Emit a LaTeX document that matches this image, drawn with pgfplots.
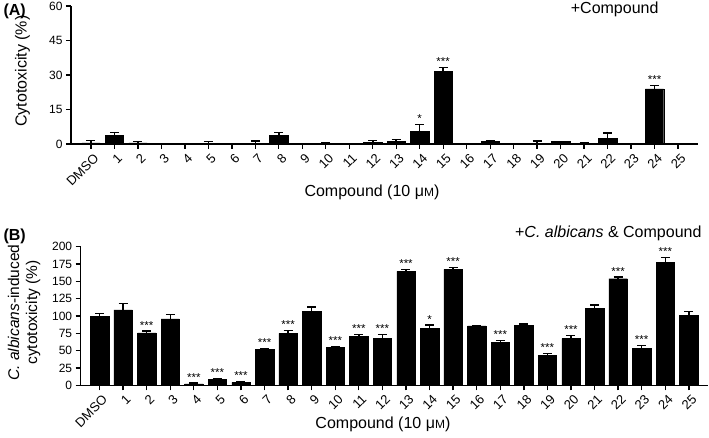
\documentclass[border=0pt]{standalone}
\usepackage{pgfplots}
\pgfplotsset{compat=1.18}
\usepackage{fontspec}
\setmainfont{Liberation Sans}
\newcommand{\tickfont}{\fontsize{12}{12}\selectfont}
\newcommand{\xtickfont}{\fontsize{13}{13}\selectfont}
\newcommand{\labfont}{\fontsize{16}{17.5}\selectfont}
\begin{document}
\begin{tikzpicture}
\path[use as bounding box] (0pt,0pt) rectangle (709pt,-438pt);
\pgfplotsset{
  panel/.style={
    scale only axis, width=627pt, anchor=south west,
    axis x line*=bottom, axis y line*=left,
    axis line style={line width=1.5pt, black, -},
    tick style={line width=1.3pt, black},
    major tick length=5pt, tick align=outside,
    xtick pos=bottom, ytick pos=left,
    xtick={0,...,25},
    xticklabels={DMSO,1,2,3,4,5,6,7,8,9,10,11,12,13,14,15,16,17,18,19,20,21,22,23,24,25},
    x tick label style={rotate=45, anchor=north east, font=\xtickfont, inner sep=1pt, yshift=-3pt},
    y tick label style={font=\tickfont},
    /pgf/number format/assume math mode=true,
    ymin=0, clip=false,
    xlabel style={font=\labfont, anchor=base},
    ylabel style={font=\labfont, anchor=center, align=center},
  },
  databar/.style={ybar, bar width=0.78, bar shift=0pt, fill=black, draw=black,
    error bars/.cd, y dir=plus, y explicit,
    error bar style={line width=1.5pt, black},
    error mark options={rotate=90, mark size=4.5pt, line width=1.5pt, black}},
  stars/.style={ybar, bar width=0.78, bar shift=0pt, draw=none, fill=none,
    nodes near coords, point meta=explicit symbolic,
    nodes near coords style={anchor=south, font=\fontsize{11.5}{11.5}\selectfont, inner sep=1.5pt, black}},
}
% Panel A
\begin{axis}[panel, at={(71pt,-144pt)}, height=138pt,
  xmin=-0.85, xmax=25.85, ymax=60, ytick={0,15,30,45,60},
  xlabel={Compound (10 μ{\fontsize{12}{12}\selectfont M})},
  xlabel style={at={(axis description cs:0.48,-0.382)}},
  ylabel={Cytotoxicity (\%)},
  ylabel style={at={(axis description cs:-0.0774,0.529)}},
]
\addplot[databar] table[x=x, y=y, y error=e] {
x y e
0 0.5 1.0
1 3.9 1.1
2 0.5 0.5
3 0 0
4 0 0
5 0.3 0.7
6 0 0
7 0.4 0.8
8 3.9 1.1
9 0 0
10 0.3 0.3
11 0 0
12 0.6 0.9
13 1.2 0.8
14 5.4 3.0
15 31.7 1.5
16 0 0
17 1.0 0.6
18 0 0
19 0.1 1.2
20 1.0 0.1
21 0.2 0.3
22 2.6 2.2
23 0 0
24 24.0 1.4
25 0 0
};
\addplot[stars] coordinates {(14,8.4)[*] (15,33.2)[***] (24,25.4)[***]};
\end{axis}
\node[font=\bfseries\labfont, anchor=base west] at (0pt,-16pt) {(A)};
\node[font=\labfont, anchor=base east] at (662pt,-13.5pt) {+Compound};
% Panel B
\begin{axis}[panel, at={(80.7pt,-385.3pt)}, height=138.6pt,
  xmin=-0.8, xmax=25.8, ymax=200, ytick={0,25,...,200},
  xlabel={Compound (10 μ{\fontsize{12}{12}\selectfont M})},
  xlabel style={at={(axis description cs:0.482,-0.31)}},
  ylabel={\textit{C. albicans}-induced\\cytotoxicity (\%)},
  ylabel style={at={(axis description cs:-0.0904,0.525)}, font=\fontsize{15.5}{18}\selectfont},
]
\addplot[databar] table[x=x, y=y, y error=e] {
x y e
0 99 4.5
1 108.7 9
2 75.5 3
3 96 6.4
4 2 1.4
5 8.2 1.8
6 4.3 1.5
7 52 1
8 75 4.3
9 106.7 6.3
10 54.3 1.5
11 71 2.6
12 67.3 6.3
13 164.4 2.9
14 82.2 4.8
15 167.3 2.9
16 85.6 0.9
17 61.5 3.5
18 86.5 2
19 42.8 2.9
20 67.3 4.3
21 110.6 5.3
22 153.8 2.5
23 53.8 3.9
24 177 7.6
25 101.4 4.9
};
\addplot[stars] coordinates {(2,78.5)[***] (4,3.4)[***] (5,10)[***] (6,5.8)[***] (7,53)[***] (8,79.3)[***] (10,55.8)[***] (11,73.6)[***] (12,73.6)[***] (13,167.3)[***] (14,87)[*] (15,170.2)[***] (17,65)[***] (19,45.7)[***] (20,71.6)[***] (22,156.3)[***] (23,57.7)[***] (24,184.6)[***]};
\end{axis}
\node[font=\bfseries\labfont, anchor=base west] at (0pt,-241pt) {(B)};
\node[font=\labfont, anchor=base east] at (705pt,-238pt) {+\textit{C. albicans} \& Compound};
\end{tikzpicture}
\end{document}
